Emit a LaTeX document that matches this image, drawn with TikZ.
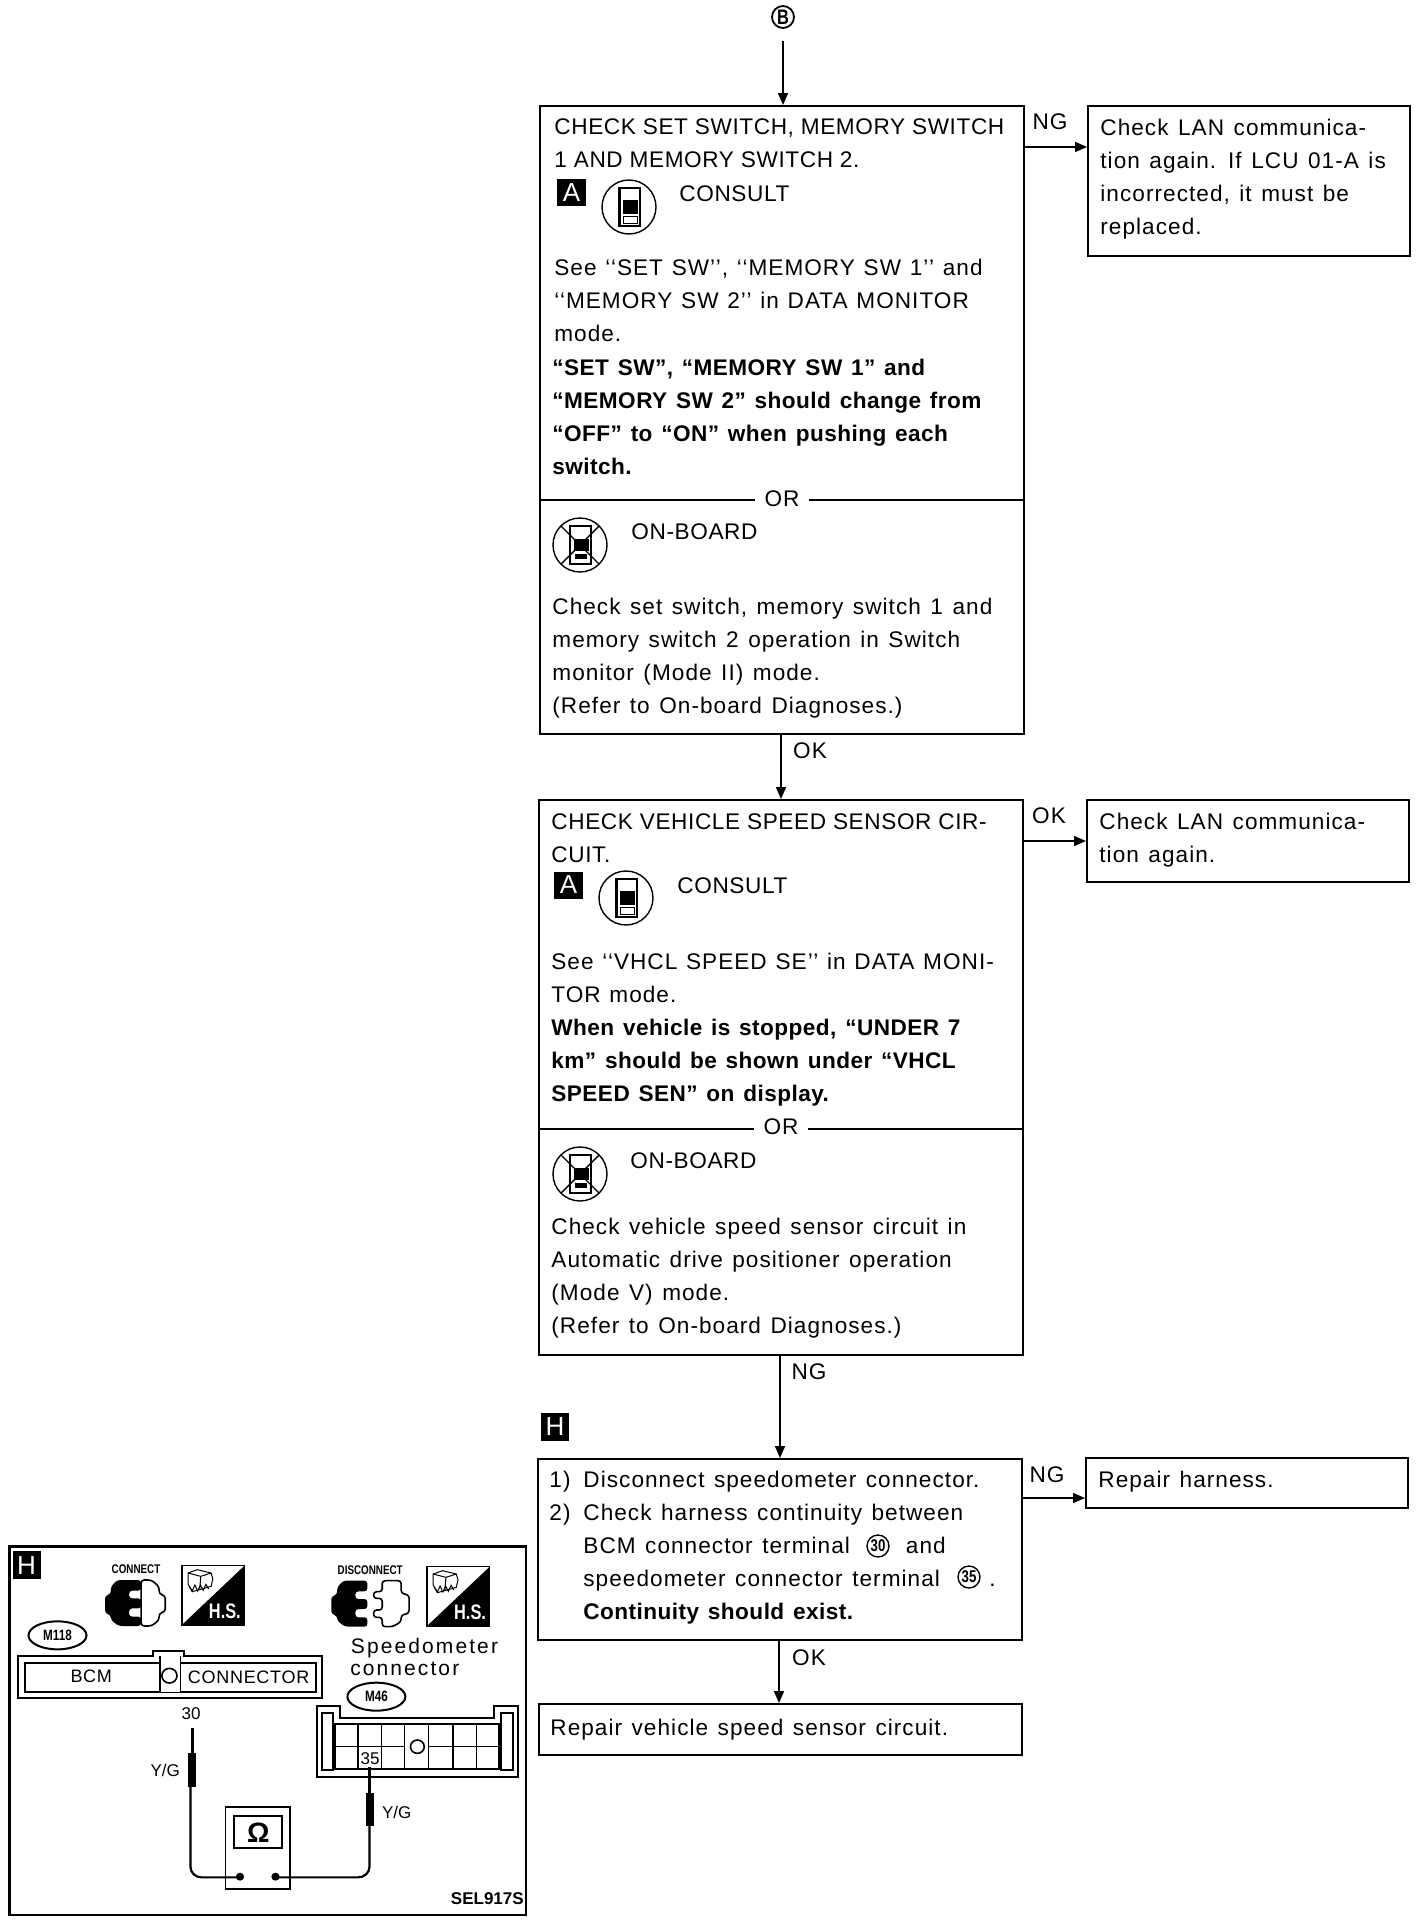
\documentclass[tikz,border=0pt]{standalone}
\usepackage{fontspec}
\usetikzlibrary{arrows.meta,shapes.geometric}
\setmainfont{Liberation Sans}[LetterSpace=4.6,WordSpace=1.3]
\newfontfamily\plainfont{Liberation Sans}
\newfontfamily\capsfont[LetterSpace=2.7,WordSpace=1.0]{Liberation Sans}
\newfontfamily\mixfont[LetterSpace=4.5,WordSpace=1.2]{Liberation Sans}
\newfontfamily\strongfont[LetterSpace=2.0,WordSpace=1.3]{Liberation Sans}
\newfontfamily\widefont[LetterSpace=10]{Liberation Sans}
\newfontfamily\midfont[LetterSpace=4]{Liberation Sans}
\newfontfamily\narrowfont[FakeStretch=0.78]{Liberation Sans}
\tikzset{
  x=0.5pt,y=-0.5pt,
  box/.style={draw,line width=1pt,rectangle,inner sep=0pt,anchor=north west},
  txt/.style={anchor=north west,inner sep=0pt,align=left,font=\fontsize{11.3}{16.5}\selectfont},
  strongtxt/.style={txt,font=\strongfont\bfseries\fontsize{11.3}{16.5}\selectfont},
  lab/.style={inner sep=0pt,font=\fontsize{11.3}{13}\selectfont},
  orlab/.style={fill=white,inner sep=0pt,inner xsep=5pt,font=\fontsize{11.3}{13}\selectfont},
  link/.style={line width=0.8pt},
  arr/.style={link,-{Triangle[length=6pt,width=5pt]}},
  blacklab/.style={fill=black,text=white,inner sep=0pt,font=\plainfont\fontsize{13}{14}\selectfont},
  numcirc/.style={draw,circle,line width=0.7pt,inner sep=0pt,minimum size=11pt,font=\narrowfont\bfseries\fontsize{8.5}{9}\selectfont},
  oval/.style={draw,ellipse,line width=1pt,inner sep=0pt,minimum width=29pt,minimum height=14pt,font=\narrowfont\bfseries\fontsize{7.5}{9}\selectfont},
  wire/.style={line width=1.1pt},
  small/.style={inner sep=0pt,font=\plainfont\fontsize{8.5}{10}\selectfont},
  consulticon/.pic={
    \draw[line width=0.7pt] (0,0) circle (27);
    \draw[line width=0.7pt,fill=white] (-10,-19) rectangle (11,19);
    \fill (-11,-19) rectangle (-8,19);
    \fill (-6,-7) rectangle (9,7);
    \draw[line width=0.5pt] (-6,9) rectangle (8,16);
  },
  noconsulticon/.pic={
    \draw[line width=0.7pt] (0,0) circle (27);
    \draw[line width=0.7pt,fill=white] (-10,-19) rectangle (11,19);
    \fill (-6,-6) rectangle (9,6);
    \fill (-5,9) rectangle (7,14);
    \draw[line width=0.7pt] (-19,-19) -- (19,19) (-19,19) -- (19,-19);
  },
  hsicon/.pic={
    \draw[line width=0.8pt,fill=white] (0,0) rectangle (182,178);
    \fill (0,178) -- (182,0) -- (182,178) -- cycle;
    \node (-hs) [text=white,inner sep=0pt,font=\narrowfont\bfseries\fontsize{10.5}{12}\selectfont] at (125,138) {H.S.};
    \draw[line width=0.5pt] (18,22) -- (45,12) -- (85,22) -- (90,40) -- (85,62) -- (30,78) -- (18,55) -- cycle;
    \draw[line width=0.5pt] (18,22) -- (55,32) -- (85,22) (55,32) -- (52,72);
    \draw[line width=0.5pt] (22,62) -- (30,76) -- (38,58) -- (46,76) -- (54,58) -- (62,74) -- (70,56) -- (78,70);
  },
  blackshell/.pic={
    \fill[rounded corners=1.5pt] (105,0) -- (35,0) -- (17,20) -- (17,42) -- (0,47) -- (0,100) -- (17,105) -- (17,120) -- (40,138) -- (105,138) -- (105,110) -- (70,110) -- (70,85) -- (105,85) -- (105,55) -- (70,55) -- (70,32) -- (105,32) -- cycle;
  }
}
\begin{document}
\begin{tikzpicture}
\useasboundingbox (0,0) rectangle (1424,1922);
% flow boxes
\node[box,minimum width=242pt,minimum height=314pt] (box1) at (539,105) {};
\node[box,minimum width=161pt,minimum height=75pt] (ng1) at (1087,105) {};
\node[box,minimum width=242pt,minimum height=277.5pt] (box2) at (538,799) {};
\node[box,minimum width=161pt,minimum height=41pt] (ok2) at (1086,799) {};
\node[box,minimum width=242pt,minimum height=90.5pt] (box3) at (537,1458) {};
\node[box,minimum width=161pt,minimum height=25pt] (rep1) at (1085,1457) {};
\node[box,minimum width=241.5pt,minimum height=25.5pt] (rep2) at (538,1703) {};
% dividers
\coordinate (d1) at (0,500);
\coordinate (d2) at (0,1129);
\draw[link] (box1.west |- d1) -- (box1.east |- d1);
\draw[link] (box2.west |- d2) -- (box2.east |- d2);
\node[orlab] (or1) at (782,499) {OR};
\node[orlab] (or2) at (781,1127) {OR};
% texts box 1
\node[txt,font=\capsfont\fontsize{11.3}{16.5}\selectfont] (t1a) at (554,110) {\rule{0pt}{12pt}CHECK SET SWITCH, MEMORY SWITCH\\1 AND MEMORY SWITCH 2.};
\node[blacklab,minimum width=14.5pt,minimum height=13.5pt] (la) at (571.5,192.5) {A};
\pic at (629,207) {consulticon};
\node[txt,font=\capsfont\fontsize{11.3}{16.5}\selectfont] (t1b) at (679,177) {\rule{0pt}{12pt}CONSULT};
\node[txt,font=\mixfont\fontsize{11.3}{16.5}\selectfont] (t1c) at (554,251) {\rule{0pt}{12pt}See ‘‘SET SW’’, ‘‘MEMORY SW 1’’ and\\‘‘MEMORY SW 2’’ in DATA MONITOR\\mode.};
\node[strongtxt] (t1d) at (552,351) {\rule{0pt}{12pt}“SET SW”, “MEMORY SW 1” and\\“MEMORY SW 2” should change from\\“OFF” to “ON” when pushing each\\switch.};
\pic at (580,545) {noconsulticon};
\node[txt,font=\capsfont\fontsize{11.3}{16.5}\selectfont] (t1e) at (631,515) {\rule{0pt}{12pt}ON-BOARD};
\node[txt] (t1f) at (552,590) {\rule{0pt}{12pt}Check set switch, memory switch 1 and\\memory switch 2 operation in Switch\\monitor (Mode II) mode.\\(Refer to On-board Diagnoses.)};
% ng box 1
\node[txt] (t2) at (1100,111) {\rule{0pt}{12pt}Check LAN communica-\\tion again. If LCU 01-A is\\incorrected, it must be\\replaced.};
% texts box 2
\node[txt,font=\capsfont\fontsize{11.3}{16.5}\selectfont] (t3a) at (551,805) {\rule{0pt}{12pt}CHECK VEHICLE SPEED SENSOR CIR-\\CUIT.};
\node[blacklab,minimum width=14.5pt,minimum height=13.5pt] (lb) at (568.5,885) {A};
\pic at (626,898) {consulticon};
\node[txt,font=\capsfont\fontsize{11.3}{16.5}\selectfont] (t3b) at (677,869) {\rule{0pt}{12pt}CONSULT};
\node[txt,font=\mixfont\fontsize{11.3}{16.5}\selectfont] (t3c) at (551,945) {\rule{0pt}{12pt}See ‘‘VHCL SPEED SE’’ in DATA MONI-\\TOR mode.};
\node[strongtxt] (t3d) at (551,1011) {\rule{0pt}{12pt}When vehicle is stopped, “UNDER 7\\km” should be shown under “VHCL\\SPEED SEN” on display.};
\pic at (580,1174) {noconsulticon};
\node[txt,font=\capsfont\fontsize{11.3}{16.5}\selectfont] (t3e) at (630,1144) {\rule{0pt}{12pt}ON-BOARD};
\node[txt] (t3f) at (551,1210) {\rule{0pt}{12pt}Check vehicle speed sensor circuit in\\Automatic drive positioner operation\\(Mode V) mode.\\(Refer to On-board Diagnoses.)};
\node[txt] (t4) at (1099,805) {\rule{0pt}{12pt}Check LAN communica-\\tion again.};
% box 3
\node[blacklab,minimum width=14pt,minimum height=14pt] (lh) at (555,1427) {H};
\node[txt] (t5n) at (549,1463.5) {\rule{0pt}{12pt}1)\\2)};
\node[txt] (t5) at (583,1463.5) {\rule{0pt}{12pt}Disconnect speedometer connector.\\Check harness continuity between\\BCM connector terminal \hspace{18.5pt} and\\speedometer connector terminal \hspace{20pt}.\\{\strongfont\bfseries Continuity should exist.}};
\node[numcirc] (c30) at (878,1546) {30};
\node[numcirc] (c35) at (969,1577) {35};
\node[txt] (t6) at (1098,1463.5) {\rule{0pt}{12pt}Repair harness.};
\node[txt] (t7) at (550,1711.5) {\rule{0pt}{12pt}Repair vehicle speed sensor circuit.};
% connectors
\node[numcirc,line width=0.9pt,font=\narrowfont\bfseries\fontsize{10.5}{11}\selectfont] (bb) at (783,17) {B};
\draw[arr] (bb.south) ++(0,12) -- (box1.north -| bb);
\coordinate (n0) at (781,0);
\coordinate (n1) at (780,0);
\coordinate (n2) at (779,0);
\draw[arr] (box1.south -| n0) -- (box2.north -| n0);
\draw[arr] (box2.south -| n1) -- (box3.north -| n1);
\draw[arr] (box3.south -| n2) -- (rep2.north -| n2);
\coordinate (h1) at (0,147);
\coordinate (h2) at (0,841);
\coordinate (h3) at (0,1498);
\draw[arr] (box1.east |- h1) -- (ng1.west |- h1);
\draw[arr] (box2.east |- h2) -- (ok2.west |- h2);
\draw[arr] (box3.east |- h3) -- (rep1.west |- h3);
\node[lab] (l1) at (1050,122) {NG};
\node[lab] (l2) at (810,751) {OK};
\node[lab] (l3) at (1049,816) {OK};
\node[lab] (l4) at (809,1372) {NG};
\node[lab] (l5) at (1047,1475) {NG};
\node[lab] (l6) at (809,1658) {OK};
% inset
\begin{scope}[shift={(0,1530)},x=0.17218pt,y=-0.16667pt]
\draw[line width=1.3pt] (27,50) rectangle (1528,1155);
\node[blacklab,minimum width=14pt,minimum height=14pt] (lh2) at (77,106) {H};
\node[inner sep=0pt,font=\narrowfont\bfseries\fontsize{6.3}{7}\selectfont] (tcon) at (395,118) {CONNECT};
\node[inner sep=0pt,font=\narrowfont\bfseries\fontsize{6.3}{7}\selectfont] (tdis) at (1075,120) {DISCONNECT};
\draw[line width=0.8pt,fill=white,rounded corners=1.5pt] (410,150) -- (440,150) -- (462,170) -- (462,192) -- (480,197) -- (480,245) -- (462,250) -- (462,270) -- (440,288) -- (410,288) -- cycle;
\pic at (305,150) {blackshell};
\pic at (962,152) {blackshell};
\draw[line width=0.8pt,fill=white,rounded corners=1.5pt] (1110,152) -- (1165,152) -- (1165,190) -- (1188,195) -- (1188,250) -- (1165,255) -- (1165,275) -- (1140,290) -- (1110,290) -- (1110,262) -- (1085,262) -- (1085,240) -- (1110,240) -- (1110,205) -- (1085,205) -- (1085,185) -- (1110,185) -- cycle;
\pic at (528,107) {hsicon};
\pic at (1240,110) {hsicon};
\node[oval] (m118) at (167,316) {M118};
\node[oval] (m46) at (1093,500) {M46};
\node[anchor=base west,inner sep=0pt,align=left,font=\widefont\fontsize{10.5}{10.5}\selectfont] (spd) at (1018,370) {Speedometer};
\node[anchor=base west,inner sep=0pt,align=left,font=\widefont\fontsize{10.5}{10.5}\selectfont] (spc) at (1016,435) {connector};
% BCM connector
\draw[line width=1.1pt] (52,378) -- (445,378) -- (445,362) -- (535,362) -- (535,378) -- (935,378) -- (935,505) -- (52,505) -- cycle;
\draw[line width=0.9pt] (72,398) rectangle (918,487);
\fill[white] (466,396) rectangle (524,489);
\draw[line width=0.7pt] (465,378) -- (465,487) -- (525,487) -- (525,378);
\draw[line width=0.8pt] (492,437) circle (22);
\node[inner sep=0pt,font=\midfont\fontsize{9}{10}\selectfont] (tbcm) at (265,438) {BCM};
\node[inner sep=0pt,font=\midfont\fontsize{9}{10}\selectfont] (tcn) at (722,442) {CONNECTOR};
\node[small] (t30) at (555,550) {30};
% meter connector
\draw[line width=1.1pt] (920,528) -- (988,528) -- (988,563) -- (1435,563) -- (1435,528) -- (1505,528) -- (1505,740) -- (920,740) -- cycle;
\draw[line width=0.9pt] (935,548) rectangle (968,720);
\draw[line width=0.9pt] (1455,548) rectangle (1490,720);
\draw[line width=0.9pt] (972,582) rectangle (1450,718);
\draw[line width=0.7pt] (1040,582) -- (1040,718) (1107,582) -- (1107,718) (1175,582) -- (1175,718) (1245,582) -- (1245,718) (1315,582) -- (1315,718) (1383,582) -- (1383,718);
\draw[line width=0.7pt] (972,650) -- (1175,650) (1245,650) -- (1450,650);
\draw[line width=0.8pt] (1212,650) circle (20);
\node[small,fill=white] (t35) at (1075,685) {35};
% meter
\draw[line width=0.9pt] (655,832) rectangle (842,1078);
\draw[line width=0.9pt] (680,857) rectangle (820,955);
\node[inner sep=0pt,font=\plainfont\bfseries\fontsize{14}{16}\selectfont] (ohm) at (750,908) {Ω};
\fill (697,1040) circle (12);
\fill (800,1040) circle (12);
% probes
\draw[wire,line width=1.4pt] (558,593) -- (558,670);
\fill (545,670) rectangle (570,770);
\draw[wire] (553,770) -- (553,1010) to[out=-90,in=180] (585,1042) -- (697,1042);
\draw[wire,line width=1.4pt] (1073,710) -- (1073,788);
\fill (1062,788) rectangle (1087,888);
\draw[wire] (1073,888) -- (1073,1010) to[out=-90,in=0] (1040,1042) -- (800,1042);
\node[small] (yg1) at (480,722) {Y/G};
\node[small] (yg2) at (1152,848) {Y/G};
\node[anchor=base east,inner sep=0pt,font=\plainfont\bfseries\fontsize{8.5}{10}\selectfont] (sel) at (1522,1123) {SEL917S};
\end{scope}
\end{tikzpicture}
\end{document}
